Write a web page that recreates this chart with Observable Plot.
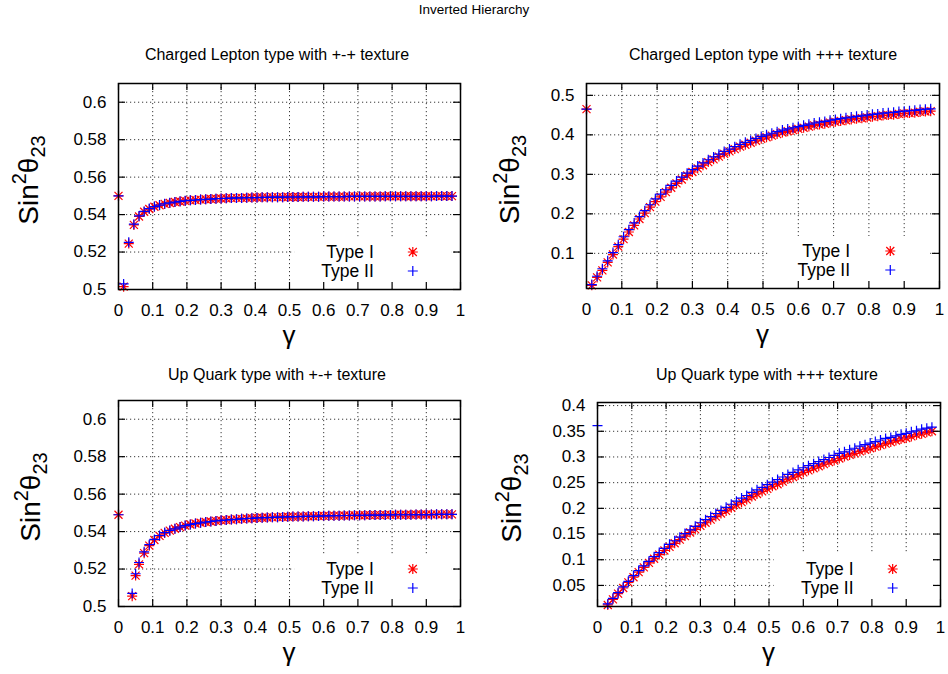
<!DOCTYPE html>
<html><head><meta charset="utf-8">
<script src="https://cdn.jsdelivr.net/npm/d3@7"></script>
<script src="https://cdn.jsdelivr.net/npm/@observablehq/plot@0.6"></script>
<style>
body{margin:0;background:#fff;}
#wrap{position:relative;width:948px;height:674px;font-family:"Liberation Sans",Arial,sans-serif;background:#fff;overflow:hidden;}
.t{position:absolute;font-size:16px;transform:translateX(-50%);white-space:nowrap;color:#000;line-height:18px;}
.t.main{font-size:13.5px;line-height:16px;}
#wrap svg{position:absolute;}
</style></head><body><div id="wrap"></div>
<script>
// ---------- DATA ----------
const mainTitle = "Inverted Hierarchy";
const panelTitles = ["Charged Lepton type with +-+ texture","Charged Lepton type with +++ texture","Up Quark type with +-+ texture","Up Quark type with +++ texture"];
const seriesNames = ["Type I","Type II"];
const xTicks = [0,0.1,0.2,0.3,0.4,0.5,0.6,0.7,0.8,0.9,1];
const yTicksPM = [0.5,0.52,0.54,0.56,0.58,0.6];
const yTicksCLppp = [0.1,0.2,0.3,0.4,0.5];
const yTicksUQppp = [0.05,0.1,0.15,0.2,0.25,0.3,0.35,0.4];

const gamma = [0.015,0.03,0.045,0.06,0.075,0.09,0.105,0.12,0.135,0.15,0.165,0.18,0.195,0.21,0.225,0.24,0.255,0.27,0.285,0.3,
0.315,0.33,0.345,0.36,0.375,0.39,0.405,0.42,0.435,0.45,0.465,0.48,0.495,0.51,0.525,0.54,0.555,0.57,0.585,0.6,
0.615,0.63,0.645,0.66,0.675,0.69,0.705,0.72,0.735,0.75,0.765,0.78,0.795,0.81,0.825,0.84,0.855,0.87,0.885,0.9,
0.915,0.93,0.945,0.96,0.975];

// Charged lepton, +-+
const clpmTypeI = [0.5015,0.5245,0.5345,0.539,0.5415,0.543,0.5442,0.545,0.5457,0.5462,0.5467,0.547,0.5473,0.5476,0.5478,0.548,0.5482,0.5483,0.5485,0.5486,
0.5487,0.5488,0.5489,0.5489,0.549,0.5491,0.5491,0.5492,0.5492,0.5493,0.5493,0.5493,0.5494,0.5494,0.5494,0.5495,0.5495,0.5495,0.5495,0.5496,
0.5496,0.5496,0.5496,0.5496,0.5497,0.5497,0.5497,0.5497,0.5497,0.5497,0.5497,0.5498,0.5498,0.5498,0.5498,0.5498,0.5498,0.5498,0.5498,0.5498,
0.5498,0.5499,0.5499,0.5499,0.5499];
const clpmTypeII = [0.503,0.5252,0.5349,0.5393,0.5417,0.5432,0.5443,0.5451,0.5458,0.5463,0.5467,0.5471,0.5474,0.5476,0.5478,0.548,0.5482,0.5483,0.5485,0.5486,
0.5487,0.5488,0.5489,0.5489,0.549,0.5491,0.5491,0.5492,0.5492,0.5493,0.5493,0.5493,0.5494,0.5494,0.5494,0.5495,0.5495,0.5495,0.5495,0.5496,
0.5496,0.5496,0.5496,0.5496,0.5497,0.5497,0.5497,0.5497,0.5497,0.5497,0.5497,0.5498,0.5498,0.5498,0.5498,0.5498,0.5498,0.5498,0.5498,0.5498,
0.5498,0.5499,0.5499,0.5499,0.5499];
const clpmExtraX = [0], clpmExtraI = [0.55], clpmExtraII = [0.55];

// Charged lepton, +++
const clppTypeI = [0.019,0.039,0.057,0.077,0.097,0.117,0.136,0.154,0.171,0.187,0.202,0.217,0.231,0.243,0.255,0.266,0.277,0.287,0.297,0.306,
0.315,0.323,0.331,0.338,0.345,0.352,0.358,0.364,0.37,0.375,0.38,0.385,0.39,0.394,0.398,0.402,0.406,0.409,0.412,0.415,
0.418,0.421,0.424,0.426,0.428,0.431,0.433,0.435,0.437,0.439,0.441,0.442,0.444,0.446,0.447,0.449,0.45,0.451,0.453,0.454,
0.455,0.456,0.458,0.459,0.46];
const clppTypeII = [0.021,0.042,0.061,0.081,0.102,0.122,0.142,0.16,0.177,0.193,0.208,0.223,0.238,0.25,0.261,0.272,0.283,0.293,0.303,0.312,
0.321,0.329,0.337,0.344,0.351,0.358,0.364,0.37,0.376,0.381,0.386,0.391,0.396,0.4,0.404,0.408,0.412,0.415,0.418,0.421,
0.424,0.427,0.43,0.432,0.434,0.437,0.439,0.441,0.443,0.445,0.447,0.448,0.45,0.452,0.453,0.455,0.456,0.457,0.459,0.46,
0.461,0.462,0.464,0.465,0.466];
const clppExtraX = [0], clppExtraI = [0.465], clppExtraII = [0.465];

// Up quark, +-+
const uqpmTypeI = [null,null,null,0.5225,0.5285,0.5325,0.5355,0.5377,0.5393,0.5405,0.5415,0.5424,0.5432,0.5438,0.5443,0.5447,0.5451,0.5454,0.5457,0.546,
0.5462,0.5464,0.5466,0.5468,0.547,0.5471,0.5473,0.5474,0.5475,0.5476,0.5477,0.5478,0.5479,0.548,0.548,0.5481,0.5482,0.5482,0.5483,0.5484,
0.5484,0.5485,0.5485,0.5486,0.5486,0.5487,0.5487,0.5487,0.5488,0.5488,0.5488,0.5489,0.5489,0.549,0.549,0.549,0.549,0.5491,0.5491,0.5491,
0.5491,0.5492,0.5492,0.5492,0.5492];
const uqpmTypeII = [null,null,null,0.5235,0.5292,0.533,0.5358,0.5379,0.5395,0.5406,0.5415,0.5424,0.5432,0.5438,0.5443,0.5447,0.5451,0.5454,0.5457,0.546,
0.5462,0.5464,0.5466,0.5468,0.547,0.5471,0.5473,0.5474,0.5475,0.5476,0.5477,0.5478,0.5479,0.548,0.548,0.5481,0.5482,0.5482,0.5483,0.5484,
0.5484,0.5485,0.5485,0.5486,0.5486,0.5487,0.5487,0.5487,0.5488,0.5488,0.5488,0.5489,0.5489,0.549,0.549,0.549,0.549,0.5491,0.5491,0.5491,
0.5491,0.5492,0.5492,0.5492,0.5492];
const uqpmExtraX = [0,0.04,0.05], uqpmExtraI = [0.549,0.5055,0.5165], uqpmExtraII = [0.549,0.507,0.5175];

// Up quark, +++
const uqppTypeI = [null,0.012,0.023,0.034,0.045,0.056,0.066,0.076,0.085,0.094,0.102,0.11,0.118,0.125,0.132,0.139,0.146,0.153,0.159,0.166,
0.172,0.178,0.184,0.19,0.195,0.201,0.207,0.212,0.217,0.223,0.228,0.233,0.238,0.243,0.247,0.252,0.257,0.261,0.265,0.27,
0.274,0.278,0.282,0.286,0.29,0.293,0.297,0.301,0.304,0.307,0.311,0.314,0.317,0.32,0.323,0.326,0.329,0.332,0.335,0.337,
0.34,0.343,0.345,0.348,0.35];
const uqppTypeII = [null,0.014,0.025,0.036,0.047,0.058,0.069,0.079,0.088,0.097,0.106,0.114,0.122,0.13,0.137,0.144,0.151,0.158,0.165,0.172,
0.178,0.184,0.19,0.196,0.202,0.208,0.214,0.22,0.225,0.231,0.236,0.241,0.246,0.251,0.256,0.261,0.266,0.27,0.275,0.279,
0.283,0.287,0.291,0.295,0.299,0.303,0.307,0.31,0.314,0.317,0.321,0.324,0.327,0.33,0.333,0.336,0.338,0.341,0.344,0.346,
0.349,0.351,0.354,0.356,0.358];
const uqppExtraX = [0], uqppExtraI = [null], uqppExtraII = [0.361];

// ---------- SYMBOLS ----------
const star8 = {draw(ctx, size){const r=Math.sqrt(size/Math.PI), d=r*0.8;
  ctx.moveTo(-r,0);ctx.lineTo(r,0);ctx.moveTo(0,-r);ctx.lineTo(0,r);
  ctx.moveTo(-d,-d);ctx.lineTo(d,d);ctx.moveTo(-d,d);ctx.lineTo(d,-d);}};
const plusSym = {draw(ctx, size){const r=Math.sqrt(size/Math.PI);
  ctx.moveTo(-r,0);ctx.lineTo(r,0);ctx.moveTo(0,-r);ctx.lineTo(0,r);}};
const RED = "#ff0000", BLUE = "#0000ff";
const MR = 5;

function rows(xs, ys){ return xs.map((x,i)=>({x, y: ys[i]})).filter(d=>d.y!=null); }

const panels = [
  {left:0, top:0, w:474, h:360, ml:118, mr:14, mt:83, mb:71, ydom:[0.5,0.61], yt:yTicksPM,
   I:clpmTypeI, II:clpmTypeII, eX:clpmExtraX, eI:clpmExtraI, eII:clpmExtraII, title:panelTitles[0], titleX:277, titleY:46, ylx:38},
  {left:474, top:0, w:474, h:360, ml:112, mr:9, mt:83, mb:72, ydom:[0.011,0.53], yt:yTicksCLppp,
   I:clppTypeI, II:clppTypeII, eX:clppExtraX, eI:clppExtraI, eII:clppExtraII, title:panelTitles[1], titleX:763, titleY:46, ylx:45},
  {left:0, top:360, w:474, h:314, ml:118, mr:14, mt:40, mb:68, ydom:[0.5,0.61], yt:yTicksPM,
   I:uqpmTypeI, II:uqpmTypeII, eX:uqpmExtraX, eI:uqpmExtraI, eII:uqpmExtraII, title:panelTitles[2], titleX:277, titleY:366, ylx:40},
  {left:474, top:360, w:474, h:314, ml:123, mr:8, mt:42, mb:68, ydom:[0.009,0.406], yt:yTicksUQppp,
   I:uqppTypeI, II:uqppTypeII, eX:uqppExtraX, eI:uqppExtraI, eII:uqppExtraII, title:panelTitles[3], titleX:767, titleY:366, ylx:47}
];

const wrap = document.getElementById("wrap");
const mt = document.createElement("div");
mt.className = "t main"; mt.style.left = "474px"; mt.style.top = "2px"; mt.textContent = mainTitle;
wrap.appendChild(mt);

for (const p of panels) {
  const fw = p.w - p.ml - p.mr, fh = p.h - p.mt - p.mb;
  const dI = rows(gamma, p.I).concat(rows(p.eX, p.eI));
  const dII = rows(gamma, p.II).concat(rows(p.eX, p.eII));
  const grid = {stroke:"#222", strokeWidth:1, strokeDasharray:"1.2,2.8", strokeOpacity:0.9, className:"gridln"};
  const svg = Plot.plot({
    width:p.w, height:p.h, marginLeft:p.ml, marginRight:p.mr, marginTop:p.mt, marginBottom:p.mb,
    x:{domain:[0,1], axis:null}, y:{domain:p.ydom, axis:null},
    style:{fontFamily:"Liberation Sans, Arial, sans-serif", fontSize:"17px", color:"#000", background:"transparent", overflow:"visible"},
    marks:[
      Plot.ruleX(xTicks.slice(1,-1), grid),
      Plot.ruleY(p.yt, grid),
      Plot.dot(dI, {x:"x", y:"y", symbol:star8, r:MR, stroke:RED, fill:"none", strokeWidth:1.2}),
      Plot.dot(dII, {x:"x", y:"y", symbol:plusSym, r:MR, stroke:BLUE, fill:"none", strokeWidth:1.2}),
      Plot.frame({stroke:"#000", strokeWidth:1.5}),
      Plot.tickX(xTicks, {x:d=>d, insetTop:fh-7, stroke:"#000", strokeWidth:1.2}),
      Plot.tickX(xTicks, {x:d=>d, insetBottom:fh-7, stroke:"#000", strokeWidth:1.2}),
      Plot.tickY(p.yt, {y:d=>d, insetRight:fw-7, stroke:"#000", strokeWidth:1.2}),
      Plot.tickY(p.yt, {y:d=>d, insetLeft:fw-7, stroke:"#000", strokeWidth:1.2}),
      Plot.axisX(xTicks, {tickSize:0, tickPadding:14, tickFormat:d=>String(d), label:null}),
      Plot.axisY(p.yt, {tickSize:0, tickPadding:12, tickFormat:d=>String(d), label:null})
    ]
  });
  svg.style.left = p.left + "px"; svg.style.top = p.top + "px";
  const s = d3.select(svg);
  // legend background after grid lines
  const grids = svg.querySelectorAll(".gridln");
  const lastGrid = grids[grids.length-1];
  const fb = p.mt + fh;
  const box = document.createElementNS("http://www.w3.org/2000/svg","rect");
  box.setAttribute("x", p.ml + 0.515*fw); box.setAttribute("y", fb-52);
  box.setAttribute("width", 0.46*fw); box.setAttribute("height", 51.5);
  box.setAttribute("fill", "#fff");
  lastGrid.parentNode.insertBefore(box, lastGrid.nextSibling);
  // legend entries
  const lg = s.append("g").attr("font-size", 17.5);
  [[seriesNames[0], star8, RED, fb-37],[seriesNames[1], plusSym, BLUE, fb-18]].forEach(([name, sym, col, yy])=>{
    lg.append("text").attr("x", p.ml + 0.748*fw).attr("y", yy).attr("dy","0.36em").attr("text-anchor","end").attr("fill","#000").text(name);
    lg.append("path").attr("transform",`translate(${p.ml + 0.862*fw},${yy})`)
      .attr("d", d3.symbol(sym, Math.PI*MR*MR)()).attr("stroke", col).attr("fill","none").attr("stroke-width",1.2);
  });
  // y label
  const cy = p.mt + fh/2 - 6;
  const yl = s.append("text").attr("transform",`translate(${p.ylx},${cy}) rotate(-90)`)
    .attr("text-anchor","middle").attr("font-size",28).attr("fill","#000");
  yl.append("tspan").text("Sin");
  yl.append("tspan").attr("dy",-12).attr("font-size",20).text("2");
  yl.append("tspan").attr("dy",12).text("θ");
  yl.append("tspan").attr("dy",7).attr("font-size",20).text("23");
  // x label
  s.append("text").attr("x", p.ml + fw/2).attr("y", fb + 55).attr("text-anchor","middle")
    .attr("font-size",26).attr("fill","#000").text("γ");
  wrap.appendChild(svg);
  const t = document.createElement("div");
  t.className = "t"; t.style.left = p.titleX + "px"; t.style.top = p.titleY + "px"; t.textContent = p.title;
  wrap.appendChild(t);
}
</script></body></html>
